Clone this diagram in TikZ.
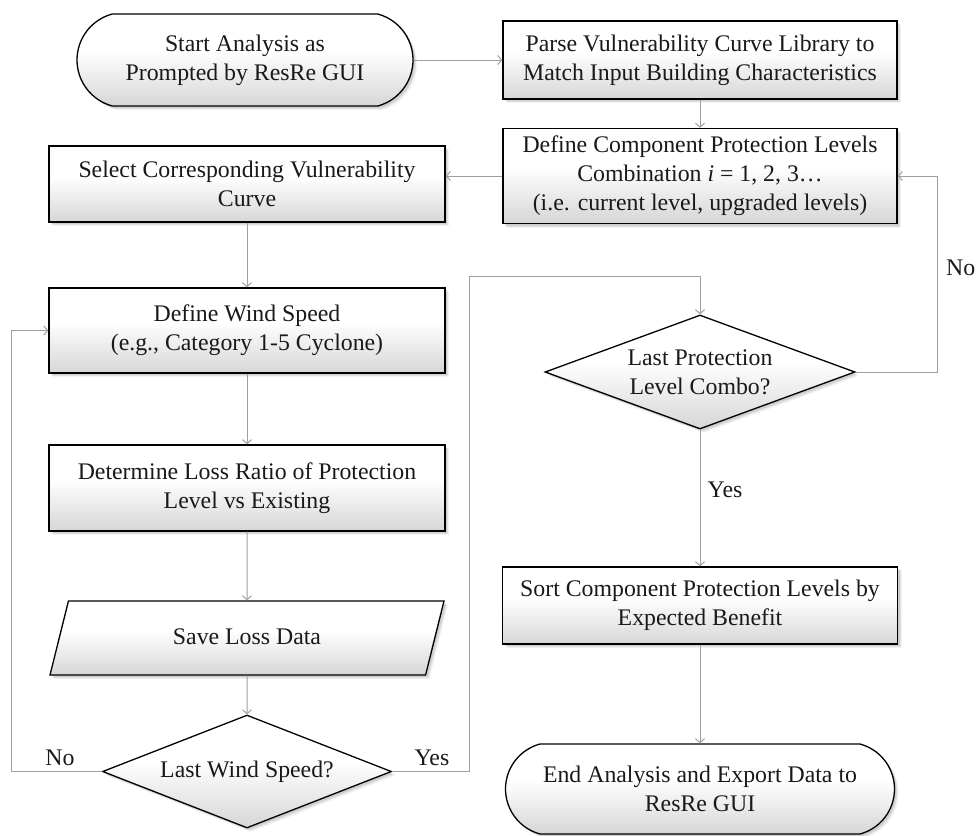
\documentclass[tikz,border=0pt]{standalone}
\usepackage{fontspec}
\setmainfont{Liberation Serif}
\usetikzlibrary{shapes.geometric,shapes.misc,shadows,arrows.meta}
\pgfdeclareverticalshading{boxshade}{100bp}{color(0bp)=(black!16); color(25bp)=(black!16); color(55bp)=(white); color(100bp)=(white)}
\begin{document}
\begin{tikzpicture}[x=1pt,y=1pt,
  font=\fontsize{23.8}{29}\selectfont,
  base/.style={draw=black, line width=1.3pt, text=black!90,
    shading=boxshade,
    drop shadow={shadow xshift=4pt, shadow yshift=-4pt, opacity=0.10},
    drop shadow={shadow xshift=3pt, shadow yshift=-3pt, opacity=0.15},
    drop shadow={shadow xshift=2pt, shadow yshift=-2pt, opacity=0.20},
    align=center, inner sep=0pt},
  procbox/.style={base, rectangle},
  termbox/.style={base, rounded rectangle, rounded rectangle arc length=150},
  decbox/.style={base, diamond},
  iobox/.style={base, trapezium, trapezium left angle=76, trapezium right angle=104,
    trapezium stretches body, text height=16pt, text depth=4pt, inner ysep=27pt},
  conn/.style={draw=black!38, line width=1pt, -{Straight Barb[length=4pt,width=9pt]}},
  lbl/.style={text=black!90, inner sep=0pt}
]
\useasboundingbox (0,0) rectangle (976,-835);

\node[termbox, minimum width=336pt, minimum height=92pt] (start) at (245,-60)
  {Start Analysis as\\Prompted by ResRe GUI};
\node[procbox, minimum width=394pt, minimum height=78pt] (parse) at (700,-60)
  {Parse Vulnerability Curve Library to\\Match Input Building Characteristics};
\node[procbox, minimum width=394pt, minimum height=95pt] (dc) at (700,-176)
  {Define Component Protection Levels\\Combination \textit{i} = 1, 2, 3\dots\\(i.e. current level, upgraded levels)};
\node[procbox, minimum width=396pt, minimum height=76pt] (sel) at (247,-184)
  {Select Corresponding Vulnerability\\Curve};
\node[procbox, minimum width=396pt, minimum height=85pt] (ws) at (247,-330.5)
  {Define Wind Speed\\(e.g., Category 1-5 Cyclone)};
\node[procbox, minimum width=396pt, minimum height=86pt] (dl) at (247,-488)
  {Determine Loss Ratio of Protection\\Level vs Existing};
\node[iobox, minimum width=394pt] (save) at (247,-638)
  {Save Loss Data};
\node[decbox, aspect=2.56, minimum width=289pt, minimum height=113pt] (lws) at (247,-771.5)
  {Last Wind Speed?};
\node[decbox, aspect=2.72, minimum width=310pt, minimum height=114pt] (lpc) at (700,-372)
  {Last Protection\\Level Combo?};
\node[procbox, minimum width=395pt, minimum height=77pt] (sort) at (700,-605.5)
  {Sort Component Protection Levels by\\Expected Benefit};
\node[termbox, minimum width=389pt, minimum height=90pt] (end) at (700,-789)
  {End Analysis and Export Data to\\ResRe GUI};

\coordinate (lx) at (11,0);
\coordinate (ybend) at (469,-276);
\coordinate (nx) at (937,0);

\draw[conn] (start.east) -- (parse.west);
\draw[conn] (parse.south) -- (dc.north);
\draw[conn] (dc.west) -- (dc.west -| sel.east);
\draw[conn] (sel.south) -- (ws.north);
\draw[conn] (ws.south) -- (dl.north);
\draw[conn] (dl.south) -- (save.north);
\draw[conn] (save.south) -- (lws.north);
\draw[conn] (lws.west) -- (lws.west -| lx) |- (ws.west);
\draw[conn] (lws.east) -| (ybend) -| (lpc.north);
\draw[conn] (lpc.east) -| (nx |- dc.east) -- (dc.east);
\draw[conn] (lpc.south) -- (sort.north);
\draw[conn] (sort.south) -- (end.north);

\node[lbl] (no1) at (60,-758) {No};
\node[lbl] (yes1) at (432,-758) {Yes};
\node[lbl, anchor=west] (no2) at (946,-268) {No};
\node[lbl] (yes2) at (725,-490) {Yes};
\end{tikzpicture}
\end{document}
